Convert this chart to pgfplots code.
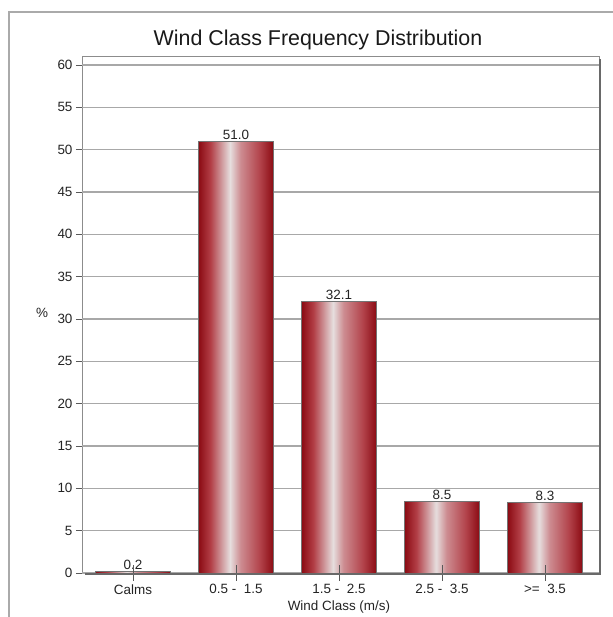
\documentclass[border=0pt]{standalone}
\usepackage{pgfplots}
\pgfplotsset{compat=1.18}
\usepackage{fontspec}
\setmainfont{Liberation Sans}

\definecolor{bardark}{RGB}{138,10,18}
\definecolor{barmid}{RGB}{178,62,70}
\definecolor{barlight}{RGB}{230,222,222}
\definecolor{barpink}{RGB}{205,140,145}
\definecolor{barmidr}{RGB}{178,66,74}
\definecolor{gridgray}{RGB}{168,168,168}
\definecolor{axisgray}{RGB}{140,140,140}
\definecolor{shadowgray}{RGB}{105,105,105}
\definecolor{framegray}{RGB}{170,170,170}
\definecolor{labelgray}{RGB}{35,35,35}

% vertical light band running down each bar
\pgfdeclarehorizontalshading{barshade}{100bp}{%
  color(0bp)=(bardark); color(25bp)=(bardark); color(33bp)=(barmid);
  color(46bp)=(barlight); color(53bp)=(barpink); color(66bp)=(barmidr);
  color(75bp)=(bardark); color(100bp)=(bardark)}

\pgfplotsset{
  windframe/.style={
    at={(82bp,44bp)}, anchor=south west,
    scale only axis, width=517bp, height=516bp,
    xmin=-0.495, xmax=4.524, ymin=0, ymax=60.94},
  windbar/.style={ybar, bar width=0.73, bar shift=0pt, shading=barshade,
    draw=black!55, line width=0.6bp,
    nodes near coords={\pgfmathprintnumber[fixed,fixed zerofill,precision=1,assume math mode=true]{\pgfplotspointmeta}},
    every node near coord/.append style={font=\fontsize{13.5}{16}\selectfont,
      text=labelgray, inner sep=1.5bp, anchor=south}},
}

\begin{document}
\begin{tikzpicture}
\path[use as bounding box] (0,0) rectangle (613bp,617bp);
% outer panel frame
\draw[framegray, line width=1.5bp] (9bp,0) -- (9bp,605bp) -- (613bp,605bp);
\node[font=\fontsize{21.5}{25}\selectfont, text=black!90] at (318bp,577bp) {Wind Class Frequency Distribution};

\begin{axis}[
  windframe,
  axis line style={draw=axisgray, line width=1bp},
  xtick={0,1,2,3,4},
  xticklabels={Calms, 0.5 -\ \ 1.5, 1.5 -\ \ 2.5, 2.5 -\ \ 3.5, >=\ \ 3.5},
  xtick align=center,
  major tick length=16bp,
  ytick=\empty,
  minor ytick={1,2,3,4,6,7,8,9,11,12,13,14,16,17,18,19,21,22,23,24,26,27,28,29,
    31,32,33,34,36,37,38,39,41,42,43,44,46,47,48,49,51,52,53,54,56,57,58,59},
  minor tick length=6bp,
  ytick align=inside,
  extra y ticks={0,5,...,60},
  extra y tick style={ytick align=outside, major tick length=6bp, grid=major},
  ytick pos=left, xtick pos=bottom,
  grid style={draw=gridgray, line width=1.2bp},
  tick style={draw=black!65, line width=0.8bp},
  tick label style={font=\fontsize{13.5}{16}\selectfont, text=labelgray},
  /pgf/number format/assume math mode=true,
  xlabel={Wind Class (m/s)}, ylabel={\%},
  every axis x label/.style={at={(axis description cs:0.497,0)}, anchor=center,
    yshift=-34bp, font=\fontsize{13.5}{16}\selectfont, text=labelgray},
  every axis y label/.style={at={(axis description cs:0,0.504)}, anchor=center,
    xshift=-40bp, font=\fontsize{13.5}{16}\selectfont, text=labelgray},
  clip=false,
]
% one plot per class so that each bar carries its own shading
\addplot[windbar] coordinates {(0,0.2)};
\addplot[windbar] coordinates {(1,51.0)};
\addplot[windbar] coordinates {(2,32.1)};
\addplot[windbar] coordinates {(3,8.5)};
\addplot[windbar] coordinates {(4,8.3)};
\end{axis}
% category ticks drawn again on top of the bars
\begin{axis}[
  windframe,
  axis line style={draw=none},
  xtick={0,1,2,3,4}, xticklabels={},
  xtick align=center, xtick pos=bottom,
  major tick length=16bp,
  ytick=\empty,
  tick style={draw=black!65, line width=0.8bp},
]
\end{axis}
% drop shadow on the right and bottom of the plot frame
\draw[shadowgray, line width=2.6bp] (85bp,43bp) -- (600bp,43bp) -- (600bp,558bp);
\end{tikzpicture}
\end{document}
